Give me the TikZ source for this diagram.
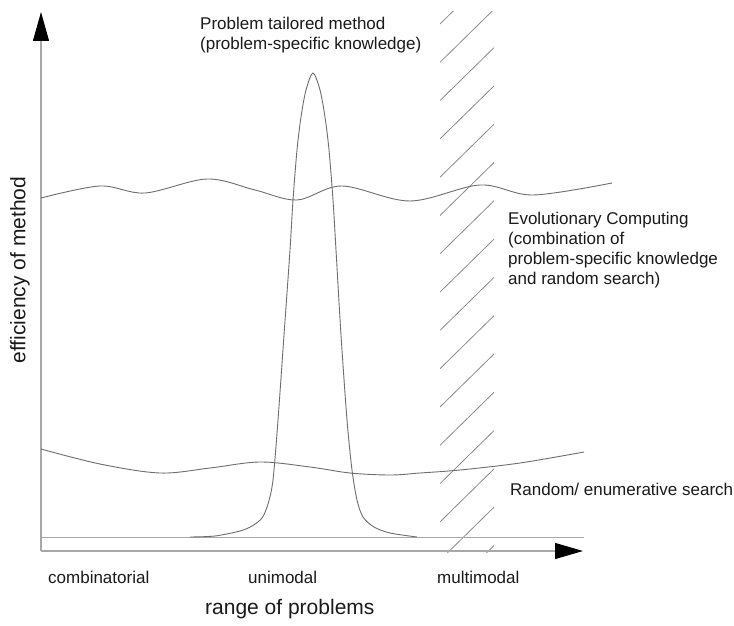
\documentclass[tikz,border=0pt]{standalone}
\usepackage{fontspec}
\setmainfont{Liberation Sans}
\usetikzlibrary{arrows.meta}

\definecolor{curvecol}{HTML}{6E6E6E}
\definecolor{axiscol}{HTML}{A8A8A8}
\definecolor{hatchcol}{HTML}{8C8C8C}
\definecolor{textcol}{HTML}{1A1A1A}

\tikzset{
  axisline/.style={draw=axiscol, line width=1.1pt},
  curve/.style={draw=curvecol, line width=0.9pt, smooth, tension=0.55},
  hatchline/.style={draw=hatchcol, line width=0.8pt},
  label/.style={text=textcol, inner sep=0pt, font=\fontsize{17}{20}\selectfont},
  biglabel/.style={text=textcol, inner sep=0pt, font=\fontsize{21}{25}\selectfont},
}

\begin{document}
\begin{tikzpicture}[x=1pt, y=-1pt]
  % page frame
  \fill[white] (0,0) rectangle (734,626);
  \useasboundingbox (0,0) rectangle (734,626);

  % axis end points
  \coordinate (origin) at (41,551);
  \coordinate (ytip) at (41,12);
  \coordinate (xtip) at (583,551);
  \coordinate (baseL) at (41,537);
  \coordinate (baseR) at (584,537);

  % hatched band for multimodal problems
  \begin{scope}
    \clip (440,12) rectangle (494,552);
    \foreach \k in {0,...,15}
      \draw[hatchline] (440,{24+38.3*\k}) -- (494,{24+38.3*\k-53});
  \end{scope}

  % axes
  \draw[axisline, -{Triangle[length=29pt, width=16pt, color=black]}] (origin) -- (ytip);
  \draw[axisline, -{Triangle[length=28pt, width=16pt, color=black]}] (origin) -- (xtip);

  % flat floor of the tailored method
  \draw[axisline, line width=0.9pt] (baseL) -- (baseR);

  % problem tailored method: narrow peak
  \draw[curve, tension=0.5] plot coordinates {
    (190,537) (215,536) (240,531) (252,526) (262,518) (268,504)
    (273,480) (278,420) (284,335) (290,250) (293,200) (297,150)
    (301,117) (306,90) (313,73) (320,90) (325,117) (329,150)
    (333,200) (336,250) (341,335) (347,420) (352,470) (357,500)
    (363,517) (374,527) (390,533) (417,537)};

  % evolutionary computing
  \draw[curve] plot coordinates {
    (41,198) (100,186) (145,193) (207,179) (255,190) (297,200)
    (342,186) (410,201) (480,185) (533,195) (612,183)};

  % random / enumerative search
  \draw[curve] plot coordinates {
    (41,449) (100,464) (160,473) (210,468) (260,462) (310,467)
    (350,473) (390,475) (420,473) (460,470) (520,463) (584,452)};

  % labels of the curves
  \node[label, anchor=north west, align=left] (tailored) at (200,17)
    {Problem tailored method\\(problem-specific knowledge)};
  \node[label, anchor=north west, align=left] (evolutionary) at (508,212)
    {Evolutionary Computing\\(combination of\\problem-specific knowledge\\and random search)};
  \node[label, anchor=base west] (random) at (510,495) {Random/ enumerative search};

  % classes of problems
  \node[label, anchor=base west] (combinatorial) at (48,583) {combinatorial};
  \node[label, anchor=base west] (unimodal) at (248,583) {unimodal};
  \node[label, anchor=base west] (multimodal) at (437,583) {multimodal};

  % axis titles
  \node[biglabel, anchor=base west] (xtitle) at (205,614) {range of problems};
  \node[biglabel, rotate=90, anchor=center] (ytitle) at (20,270) {efficiency of method};
\end{tikzpicture}
\end{document}
